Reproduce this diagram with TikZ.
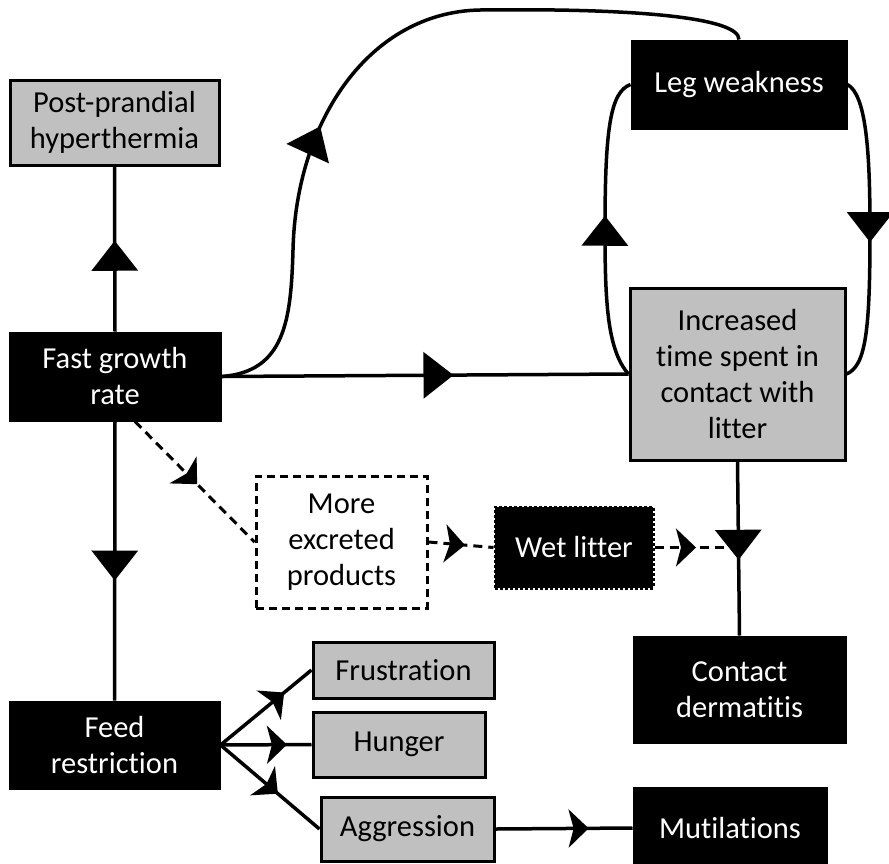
\documentclass[tikz,border=0pt]{standalone}
\usepackage{fontspec}
\setmainfont[Ligatures=NoCommon]{Carlito}
\usetikzlibrary{arrows.meta,decorations.markings}
\definecolor{boxgray}{RGB}{192,192,192}
\begin{document}
\begin{tikzpicture}[x=1pt,y=-1pt,
  box/.style={draw=black, line width=3pt, align=center, font=\fontsize{30.5}{36}\selectfont, inner sep=0pt},
  gbox/.style={box, fill=boxgray},
  bbox/.style={box, fill=black, text=white},
  conn/.style={line width=3.5pt},
  dconn/.style={line width=3pt, dash pattern=on 9pt off 6pt},
  bigtri/.style={postaction={decorate}, decoration={markings, mark=at position #1 with {\arrow{Triangle[length=30pt,width=46pt]}}}},
  dart/.style={postaction={decorate}, decoration={markings, mark=at position #1 with {\arrow{Stealth[length=20pt,width=38pt,inset=5pt]}}}},
]
\useasboundingbox (0,0) rectangle (889,863);
\node[gbox, minimum width=209pt, minimum height=85pt] (post) at (114.5,122.5) {Post-prandial\\hyperthermia};
\node[bbox, minimum width=210pt, minimum height=87pt] (fast) at (115,376.5) {Fast growth\\rate};
\node[bbox, minimum width=209pt, minimum height=86pt] (feed) at (114.5,745) {Feed\\restriction};
\node[bbox, minimum width=214pt, minimum height=87pt] (leg) at (739,84.5) {Leg weakness};
\node[gbox, minimum width=215pt, minimum height=172pt] (inc) at (737.5,374) {Increased\\time spent in\\contact with\\litter};
\node[box, fill=white, dash pattern=on 8pt off 5pt, minimum width=171pt, minimum height=132pt] (exc) at (341.5,542) {More\\excreted\\products};
\node[bbox, dotted, minimum width=158pt, minimum height=81pt] (wet) at (574,547.5) {Wet litter};
\node[bbox, minimum width=211pt, minimum height=105pt] (con) at (739.5,689.5) {Contact\\dermatitis};
\node[gbox, minimum width=181pt, minimum height=56pt] (fru) at (403.5,670) {Frustration};
\node[gbox, minimum width=172pt, minimum height=65pt] (hun) at (399,744.5) {Hunger};
\node[gbox, minimum width=173pt, minimum height=64pt] (agg) at (407.5,829) {Aggression};
\node[bbox, minimum width=192pt, minimum height=80pt] (mut) at (730,828) {Mutilations};
\coordinate (j) at (inc.south |- wet.east);
\draw[conn, bigtri=0.55] (fast.north) -- (post.south);
\draw[conn, bigtri=0.57] (fast.south) -- (feed.north);
\draw[conn, bigtri=0.57] (fast.east) -- (inc.west);
\draw[conn, bigtri=0.38] (fast.east) .. controls (285,372) and (291,320) .. (293,250) .. controls (296,120) and (370,12) .. (480,10) .. controls (640,8) and (739,18) .. (leg.north);
\draw[conn, bigtri=0.54] (inc.west) .. controls (607,350) and (605,300) .. (605,230) .. controls (605,130) and (610,92) .. (leg.west);
\draw[conn, bigtri=0.54] (leg.east) .. controls (866,95) and (870,150) .. (870,230) .. controls (870,330) and (866,366) .. (inc.east);
\draw[dconn, dart=0.52] ([xshift=20pt]fast.south) -- (exc.west);
\draw[dconn, dart=0.56] (exc.east) -- (wet.west);
\draw[dconn, dart=0.5] (wet.east) -- (j);
\draw[conn, bigtri=0.565] (inc.south) -- (con.north);
\draw[conn, dart=0.7] (feed.east) -- (fru.west);
\draw[conn, dart=0.73] (feed.east) -- (hun.west);
\draw[conn, dart=0.58] (feed.east) -- (agg.west);
\draw[conn, dart=0.68] (agg.east) -- (mut.west);
\end{tikzpicture}
\end{document}
